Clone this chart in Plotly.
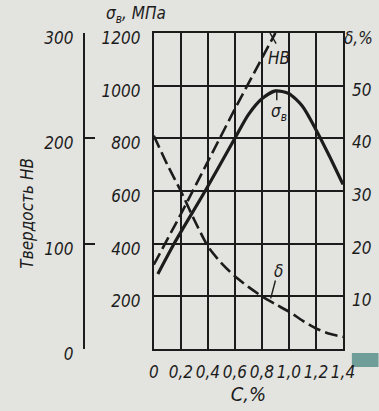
import plotly.graph_objects as go

# ---- data ----
c_sigma = [0.03, 0.15, 0.38, 0.6, 0.7, 0.8, 0.9, 1.0, 1.1, 1.2, 1.3, 1.4]
sigma_b = [285, 400, 600, 800, 890, 950, 980, 970, 922, 833, 732, 625]      # МПа

c_delta = [0, 0.1, 0.2, 0.3, 0.4, 0.5, 0.6, 0.7, 0.8, 0.9, 1.0, 1.1, 1.2, 1.3, 1.4]
delta = [40.5, 35, 30, 24.5, 19.5, 16.3, 13.8, 11.8, 10, 8.5, 7.1, 5.4, 3.9, 2.9, 2.3]  # %

c_hb = [0, 0.2, 0.4, 0.6, 0.8, 0.9]
hb = [80, 128, 178, 228, 276, 300]

x_ticks = [0, 0.2, 0.4, 0.6, 0.8, 1.0, 1.2, 1.4]
x_labels = ["0", "0,2", "0,4", "0,6", "0,8", "1,0", "1,2", "1,4"]
sigma_ticks = [200, 400, 600, 800, 1000, 1200]
delta_ticks = [10, 20, 30, 40, 50]
hb_ticks = [0, 100, 200, 300]

# ---- style ----
INK = "#1c1c1c"
BG = "#e3e3df"
FONT = "Liberation Sans Narrow, DejaVu Sans Condensed, Arial Narrow, sans-serif"
W, H = 379, 411
ML, MR, MT, MB = 0, 36, 33, 62
PW = W - ML - MR
PH = H - MT - MB
PLOT_LEFT = 151


def px(xp):
    return (xp - ML) / PW


def py(yp):
    return (H - MB - yp) / PH


fig = go.Figure()
fig.add_trace(go.Scatter(x=c_sigma, y=sigma_b, mode="lines", yaxis="y",
                         line=dict(color=INK, width=3.2, shape="spline", smoothing=0.7),
                         hoverinfo="skip"))
fig.add_trace(go.Scatter(x=c_delta, y=delta, mode="lines", yaxis="y2",
                         line=dict(color=INK, width=2.6, dash="13px,5px", shape="spline", smoothing=0.6),
                         hoverinfo="skip"))
fig.add_trace(go.Scatter(x=c_hb, y=hb, mode="lines", yaxis="y3",
                         line=dict(color=INK, width=2.6, dash="13px,5px"),
                         hoverinfo="skip"))

fig.update_layout(
    width=W, height=H,
    margin=dict(l=ML, r=MR, t=MT, b=MB),
    paper_bgcolor=BG, plot_bgcolor=BG,
    showlegend=False,
    font=dict(family=FONT, size=17, color=INK, style="italic"),
    xaxis=dict(domain=[px(PLOT_LEFT), 1], range=[0, 1.4],
               tickvals=x_ticks, ticktext=x_labels,
               showgrid=True, gridcolor=INK, gridwidth=1.5,
               showline=True, linecolor=INK, linewidth=2, mirror=True,
               ticks="", zeroline=False, ticklabelstandoff=7,
               title=dict(text="C,%", standoff=6)),
    yaxis=dict(range=[0, 1200], tickvals=sigma_ticks,
               showgrid=True, gridcolor=INK, gridwidth=1.5,
               showline=True, linecolor=INK, linewidth=2, mirror=True,
               ticks="", zeroline=False, ticklabelstandoff=8, ticklabelshift=5),
    yaxis2=dict(range=[0, 60], tickvals=delta_ticks, overlaying="y", side="right",
                anchor="x", showgrid=False, showline=False, zeroline=False,
                ticks="", ticklabelstandoff=8, ticklabelshift=4),
    yaxis3=dict(range=[0, 300], tickvals=hb_ticks, overlaying="y", side="left",
                anchor="free", position=px(80), showgrid=False, zeroline=False,
                showline=True, linecolor=INK, linewidth=2,
                ticks="inside", ticklen=10, tickwidth=1.6, tickcolor=INK,
                ticklabelstandoff=6, ticklabelshift=5),
)

annotations = [
    dict(text="σ<sub>в</sub>, МПа", xref="paper", yref="paper", x=px(133), y=py(15),
         showarrow=False, xanchor="center", yanchor="middle"),
    dict(text="δ,%", xref="paper", yref="paper", x=px(359), y=py(38),
         showarrow=False, xanchor="center", yanchor="middle"),
    dict(text="Твердость НВ", xref="paper", yref="paper", x=px(22), y=py(213),
         showarrow=False, textangle=-90, xanchor="center", yanchor="middle"),
    dict(text="НВ", xref="x", yref="y", x=0.93, y=1105, showarrow=False,
         xanchor="center", yanchor="middle"),
    dict(text="σ<sub>в</sub>", xref="x", yref="y", x=0.93, y=900, showarrow=False,
         xanchor="center", yanchor="middle"),
    dict(text="δ", xref="x", yref="y2", x=0.92, y=14.8, showarrow=False,
         xanchor="center", yanchor="middle"),
]
fig.update_layout(annotations=annotations)

shapes = [
    dict(type="line", xref="x", yref="y", x0=0.86, y0=1200, x1=0.905, y1=1160,
         line=dict(color=INK, width=1.4)),
    dict(type="line", xref="x", yref="y", x0=0.91, y0=980, x1=0.91, y1=945,
         line=dict(color=INK, width=1.4)),
    dict(type="line", xref="x", yref="y2", x0=0.90, y0=13.0, x1=0.865, y1=9.6,
         line=dict(color=INK, width=1.4)),
    # teal scan artefact at the lower right
    dict(type="rect", xref="paper", yref="paper", x0=px(352), x1=px(379),
         y0=py(367), y1=py(353), fillcolor="#6f9d97", line=dict(width=0), layer="below"),
]
fig.update_layout(shapes=shapes)

fig.write_html("out.html",
               config={"displayModeBar": False},
               post_script="document.body.style.margin='0px';"
                           "document.body.style.background='%s';" % BG)
